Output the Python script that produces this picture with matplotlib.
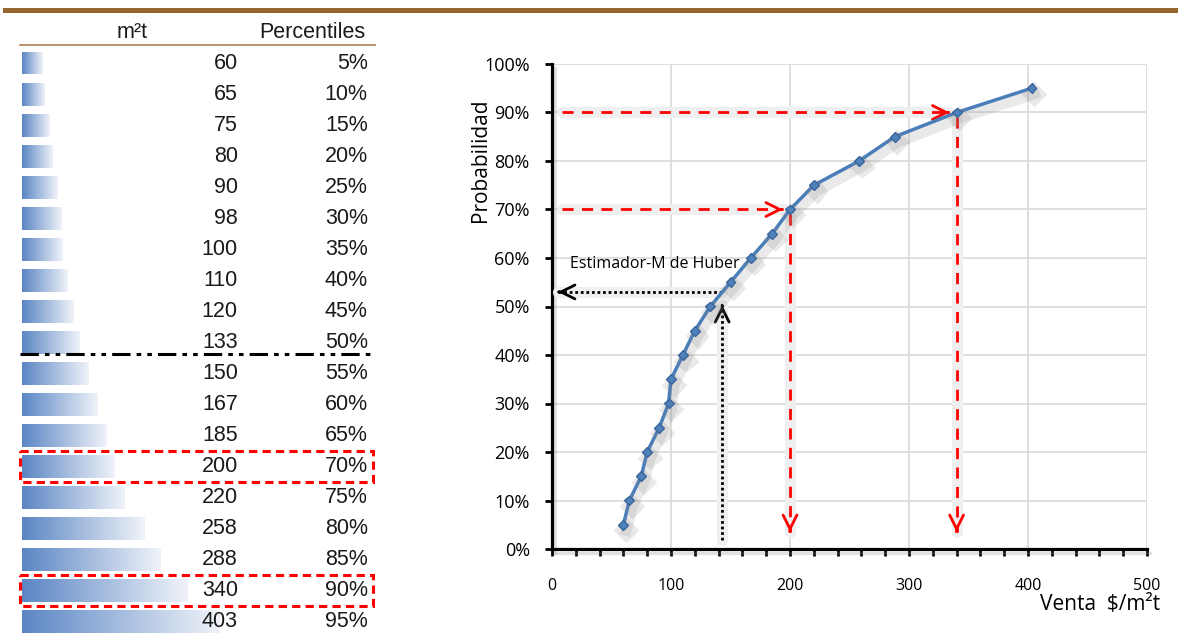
import matplotlib
matplotlib.use("Agg")
import matplotlib.pyplot as plt
import matplotlib.patheffects as pe
from matplotlib.colors import LinearSegmentedColormap
from matplotlib.lines import Line2D
from matplotlib.patches import Rectangle
import numpy as np

# venta por m2 de terreno y su percentil
venta = [60, 65, 75, 80, 90, 98, 100, 110, 120, 133, 150, 167, 185, 200, 220, 258, 288, 340, 403]
percentil = [5, 10, 15, 20, 25, 30, 35, 40, 45, 50, 55, 60, 65, 70, 75, 80, 85, 90, 95]
marcados = [200, 340]      # filas resaltadas en rojo
huber_x = 143              # estimador-M de Huber
huber_p = 53

W, H = 1181, 641
fig = plt.figure(figsize=(W / 100, H / 100), dpi=100)


def caja(l, t, r, b):
    return [l / W, 1 - b / H, (r - l) / W, (b - t) / H]


# linea superior
fig.add_artist(Line2D([5 / W, 1175 / W], [1 - 10 / H] * 2, color='#9a6630', lw=3.6))

##### TABLA #####
ax_t = fig.add_axes(caja(22, 15, 380, 641))
ax_t.axis('off')
filas = np.arange(len(venta))
barras = ax_t.barh(filas, venta, height=0.74, color='none', edgecolor='none')
grad = np.linspace(0, 1, 256).reshape(1, -1)
cmap = LinearSegmentedColormap.from_list('barra', ['#5b86c4', '#f0f3f9'])
# la barra de datos arranca en un minimo, como en excel
x_min = 21.2
for b in barras:
    x0, y0 = b.get_x(), b.get_y()
    x0 = max(x0, x_min)
    im = ax_t.imshow(grad, cmap=cmap, aspect='auto', zorder=1,
                     extent=(x0, b.get_x() + b.get_width(), y0 + b.get_height(), y0))
    im.set_clip_path(b)
ax_t.set_xlim(x_min, x_min + 358 / 0.518)
ax_t.set_ylim(18.615, -1.546)

tr = ax_t.get_yaxis_transform()
fuente_t = dict(family='Liberation Sans', fontsize=15.5, color='#1a1a1a', transform=tr, va='center')
for i, (v, p) in enumerate(zip(venta, percentil)):
    ax_t.text(0.603, i, str(v), ha='right', **fuente_t)
    ax_t.text(0.966, i, f'{p}%', ha='right', **fuente_t)
ax_t.text(0.307, -0.97, 'm²t', ha='center', **fuente_t)
ax_t.text(0.958, -0.97, 'Percentiles', ha='right', **fuente_t)
ax_t.plot([-0.006, 0.986], [-0.58, -0.58], transform=tr, color='#b48a5f', lw=1.3, clip_on=False)

# separador de la mediana
ax_t.plot([-0.006, 0.986], [9.38, 9.38], transform=tr, color='black', lw=2.2,
          dashes=(6, 2, 1.5, 2, 1.5, 2), clip_on=False)

for v in marcados:
    i = venta.index(v)
    ax_t.add_patch(Rectangle((-0.006, i - 0.5), 0.986, 1.0, transform=tr, fill=False,
                             ec='red', lw=2.2, ls=(0, (2.7, 1.7)), clip_on=False, zorder=4))

##### GRAFICO #####
plt.rcParams['font.family'] = 'Open Sans'
ax = fig.add_axes(caja(552, 64, 1147, 549))
ax.set_xlim(0, 500)
ax.set_ylim(0, 100)
ax.set_xticks(range(0, 501, 100))
ax.set_xticks(range(0, 501, 20), minor=True)
ax.set_yticks(range(0, 101, 10))
ax.yaxis.set_major_formatter(lambda v, _: f'{v:.0f}%')
ax.grid(True, color='#d9d9d9', lw=1.2)
ax.set_axisbelow(True)
for s in ['top', 'right']:
    ax.spines[s].set_visible(False)
for s in ['left', 'bottom']:
    ax.spines[s].set_linewidth(2.3)
    ax.spines[s].set_path_effects([pe.SimpleLineShadow(offset=(2, -3), shadow_color='#888888', alpha=0.25),
                                   pe.Normal()])
ax.tick_params(axis='y', direction='out', length=5, width=2, pad=11, labelsize=13)
ax.tick_params(axis='x', which='both', direction='out', length=5, width=2, pad=16, labelsize=11.5)

ax.plot(venta, percentil, color='#4a7ebb', lw=2.5, marker='D', ms=5, mfc='#4f81bd', mec='#3a659a',
        zorder=6, path_effects=[pe.SimpleLineShadow(offset=(2, -4), shadow_color='#888888', alpha=0.18, linewidth=8),
                                pe.Normal()])


def flecha(x0, y0, x1, y1, color, estilo, dx, dy):
    # halo, trazo y punta
    ax.plot([x0, x1], [y0, y1], color='#efefef', lw=8, solid_capstyle='round', zorder=3)
    ax.plot([x0, x1], [y0, y1], color=color, lw=2, ls=estilo, zorder=4)
    ax.annotate('', xy=(x1, y1), xytext=(x1 - dx, y1 - dy),
                arrowprops=dict(arrowstyle='->,head_length=1.0,head_width=0.5', color=color, lw=2,
                                shrinkA=0, shrinkB=0), zorder=5)


for v in marcados:
    p = percentil[venta.index(v)]
    flecha(8, p, v - 6, p, 'red', (0, (4, 3)), 1, 0)
    flecha(v, p - 1, v, 3.5, 'red', (0, (4, 3)), 0, -0.2)

flecha(huber_x, 1.8, huber_x, 50.3, 'black', (0, (1, 1)), 0, 0.2)
flecha(huber_x, huber_p, 5, huber_p, 'black', (0, (1, 1)), -1, 0)
ax.text(15, 58.8, 'Estimador-M de Huber', fontsize=11.5, va='center', zorder=7)

fig.text(480 / W, 1 - 160 / H, 'Probabilidad', rotation=90, ha='center', va='center', fontsize=15)
fig.text(1160 / W, 1 - 605 / H, 'Venta  $/m²t', ha='right', va='center', fontsize=15)

fig.savefig('out.png', dpi=100)
